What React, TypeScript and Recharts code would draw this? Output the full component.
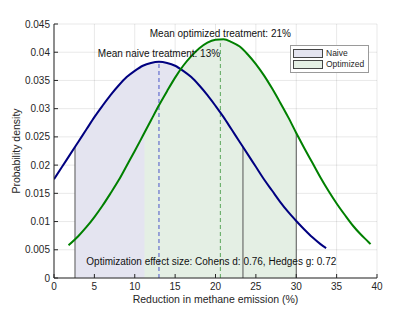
import React from "react";
import {
  ComposedChart,
  Area,
  Line,
  XAxis,
  YAxis,
  CartesianGrid,
  ReferenceLine,
  ReferenceDot,
} from "recharts";

// naive treatment density curve
const naiveX = [0, 1, 2, 3, 4, 5, 6, 7, 8, 9, 10, 11, 12, 13, 14, 15, 16, 17, 18, 19, 20, 21, 22, 23, 24, 25, 26, 27, 28, 29, 30, 31, 32, 33, 33.7];
const naiveY = [0.0175, 0.0197, 0.0219, 0.0241, 0.0263, 0.0285, 0.0305, 0.0324, 0.0341, 0.0356, 0.0367, 0.0376, 0.0381, 0.0383, 0.0381, 0.0376, 0.0367, 0.0356, 0.0341, 0.0324, 0.0305, 0.0285, 0.0263, 0.0241, 0.0219, 0.0197, 0.0175, 0.0155, 0.0135, 0.0117, 0.0101, 0.0086, 0.0072, 0.006, 0.0053];

// optimized treatment density curve
const optX = [1.8, 3, 4, 5, 6, 7, 8, 9, 10, 11, 12, 13, 14, 15, 16, 17, 18, 19, 20, 21, 22, 23, 24, 25, 26, 27, 28, 29, 30, 31, 32, 33, 34, 35, 36, 37, 38, 39, 39.2];
const optY = [0.0058, 0.0074, 0.009, 0.0108, 0.0128, 0.015, 0.0173, 0.0199, 0.0225, 0.0252, 0.0279, 0.0306, 0.0331, 0.0355, 0.0376, 0.0393, 0.0407, 0.0417, 0.0422, 0.0423, 0.0418, 0.041, 0.0396, 0.0379, 0.0359, 0.0336, 0.0311, 0.0285, 0.0257, 0.023, 0.0204, 0.0178, 0.0154, 0.0132, 0.0112, 0.0093, 0.0077, 0.0063, 0.006];

// shaded bands (mean +/- 1 sd) and curve height at their edges
const naiveBand = [2.6, 23.4];
const naiveEdgeY = [0.0232, 0.0232];
const optBand = [11.2, 30];
const optEdgeY = [0.0257, 0.0257];

const naiveMean = 13;
const naivePeak = 0.0383;
const optMean = 20.6;
const optPeak = 0.0423;

const xTicks = [0, 5, 10, 15, 20, 25, 30, 35, 40];
const yTicks = [0, 0.005, 0.01, 0.015, 0.02, 0.025, 0.03, 0.035, 0.04, 0.045];

const naiveLabel = "Mean naive treatment: 13%";
const optLabel = "Mean optimized treatment: 21%";
const effectLabel = "Optimization effect size: Cohens d: 0.76, Hedges g: 0.72";

// merge everything into one table keyed by x
const rowMap = new Map<number, any>();
const row = (x: number) => {
  if (!rowMap.has(x)) rowMap.set(x, { x });
  return rowMap.get(x);
};
naiveX.forEach((x, i) => {
  row(x).naive = naiveY[i];
  if (x >= naiveBand[0] && x <= naiveBand[1]) row(x).naiveFill = naiveY[i];
});
optX.forEach((x, i) => {
  row(x).opt = optY[i];
  if (x >= optBand[0] && x <= optBand[1]) row(x).optFill = optY[i];
});
naiveBand.forEach((x, i) => {
  row(x).naiveFill = naiveEdgeY[i];
});
optBand.forEach((x, i) => {
  row(x).optFill = optEdgeY[i];
});
const data = Array.from(rowMap.values()).sort((a, b) => a.x - b.x);

const FONT = "'Liberation Sans', Arial, sans-serif";
const AXIS = "#262626";

const XTick = (props: any) => {
  const { x, y, payload } = props;
  return (
    <g>
      <line x1={x} x2={x} y1={y - 5} y2={y - 9} stroke={AXIS} />
      <text x={x} y={y} dy="0.71em" textAnchor="middle" fontSize={10} fill={AXIS} fontFamily={FONT}>
        {payload.value}
      </text>
    </g>
  );
};

const YTick = (props: any) => {
  const { x, y, payload } = props;
  return (
    <g>
      <line x1={x + 4} x2={x + 8} y1={y} y2={y} stroke={AXIS} />
      <text x={x} y={y} dy="0.35em" textAnchor="end" fontSize={10} fill={AXIS} fontFamily={FONT}>
        {payload.value}
      </text>
    </g>
  );
};

const legendItems = [
  { name: "Naive", color: "#e4e4f0" },
  { name: "Optimized", color: "#e4efe4" },
];

const LegendBox = () => (
  <div
    style={{
      position: "absolute",
      left: 290,
      top: 45,
      border: "1px solid #9a9a9a",
      background: "#fff",
      padding: "2px 4px 2px 2px",
      fontFamily: FONT,
      fontSize: 8.5,
      color: AXIS,
      lineHeight: "11px",
    }}
  >
    {legendItems.map((e) => (
      <div key={e.name} style={{ display: "flex", alignItems: "center" }}>
        <span
          style={{
            display: "inline-block",
            width: 28,
            height: 7,
            background: e.color,
            border: "1px solid #444",
            marginRight: 3,
          }}
        />
        {e.name}
      </div>
    ))}
  </div>
);

export default function App() {
  return (
    <div style={{ position: "absolute", left: 0, top: 0, width: 415, height: 312, background: "#fff" }}>
      <ComposedChart
        width={415}
        height={312}
        data={data}
        margin={{ top: 24, right: 38, left: 0, bottom: 0 }}
      >
        <XAxis
          type="number"
          dataKey="x"
          domain={[0, 40]}
          ticks={xTicks}
          allowDataOverflow
          height={34}
          stroke={AXIS}
          tickSize={0}
          tickMargin={5}
          tick={<XTick />}
          label={{
            value: "Reduction in methane emission (%)",
            position: "insideBottom",
            offset: 9,
            fontSize: 10.5,
            fill: AXIS,
            fontFamily: FONT,
          }}
        />
        <YAxis
          type="number"
          domain={[0, 0.045]}
          ticks={yTicks}
          allowDataOverflow
          width={54}
          stroke={AXIS}
          tickSize={0}
          tickMargin={4}
          tick={<YTick />}
          label={{
            value: "Probability density",
            angle: -90,
            position: "insideLeft",
            offset: 16,
            fontSize: 10.5,
            fill: AXIS,
            fontFamily: FONT,
            style: { textAnchor: "middle" },
          }}
        />
        <Area
          type="monotone"
          dataKey="naiveFill"
          stroke="none"
          fill="#e4e4f0"
          fillOpacity={1}
          connectNulls
          isAnimationActive={false}
        />
        <Area
          type="monotone"
          dataKey="optFill"
          stroke="none"
          fill="#e4efe4"
          fillOpacity={1}
          connectNulls
          isAnimationActive={false}
        />
        <CartesianGrid stroke="#000" strokeOpacity={0.09} />
        <ReferenceLine segment={[{ x: naiveBand[0], y: 0 }, { x: naiveBand[0], y: naiveEdgeY[0] }]} stroke="#555" />
        <ReferenceLine segment={[{ x: naiveBand[1], y: 0 }, { x: naiveBand[1], y: naiveEdgeY[1] }]} stroke="#555" />
        <ReferenceLine segment={[{ x: optBand[1], y: 0 }, { x: optBand[1], y: optEdgeY[1] }]} stroke="#555" />
        <ReferenceLine
          segment={[{ x: naiveMean, y: 0 }, { x: naiveMean, y: naivePeak }]}
          stroke="#4a55c8"
          strokeDasharray="4 3"
        />
        <ReferenceLine
          segment={[{ x: optMean, y: 0 }, { x: optMean, y: optPeak }]}
          stroke="#5aa65a"
          strokeDasharray="4 3"
        />
        <Line
          type="monotone"
          dataKey="naive"
          stroke="#000080"
          strokeWidth={2}
          dot={false}
          connectNulls
          isAnimationActive={false}
        />
        <Line
          type="monotone"
          dataKey="opt"
          stroke="#008000"
          strokeWidth={2}
          dot={false}
          connectNulls
          isAnimationActive={false}
        />
        <ReferenceDot
          x={naiveMean}
          y={0.0397}
          r={0}
          fill="none"
          stroke="none"
          label={{ value: naiveLabel, position: "center", fontSize: 10, fill: "#111", fontFamily: FONT }}
        />
        <ReferenceDot
          x={optMean}
          y={0.0434}
          r={0}
          fill="none"
          stroke="none"
          label={{ value: optLabel, position: "center", fontSize: 10, fill: "#111", fontFamily: FONT }}
        />
        <ReferenceDot
          x={4}
          y={0.003}
          r={0}
          fill="none"
          stroke="none"
          label={{ value: effectLabel, position: "right", offset: 0, fontSize: 10, fill: "#111", fontFamily: FONT }}
        />
      </ComposedChart>
      <LegendBox />
    </div>
  );
}
